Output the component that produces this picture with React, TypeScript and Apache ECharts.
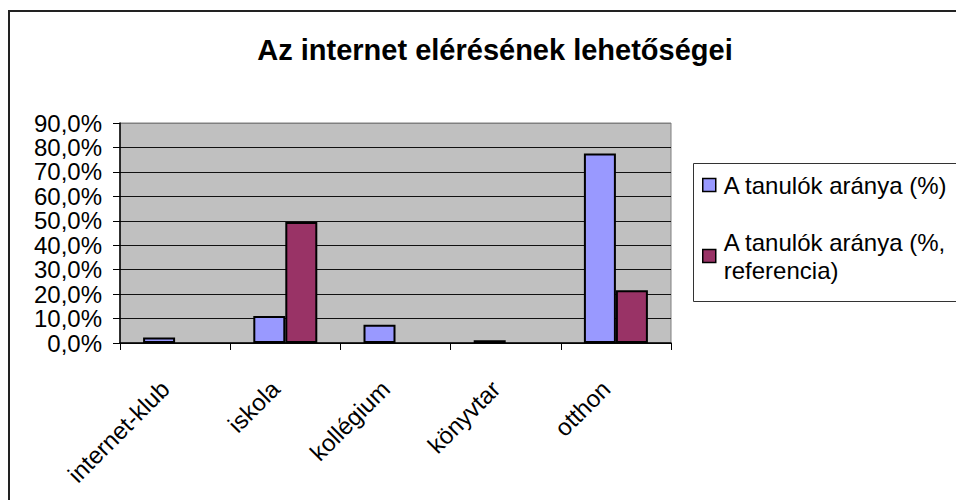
import React, { useEffect, useRef } from "react";
import * as echarts from "echarts";

const titleText = "Az internet elérésének lehetőségei";
const categories = ["internet-klub", "iskola", "kollégium", "könyvtar", "otthon"];
const seriesNames = ["A tanulók aránya (%)", "A tanulók aránya (%,\nreferencia)"];
const studentShare: (number | null)[] = [2.2, 11.0, 7.5, 1.1, 77.5];
const referenceShare: (number | null)[] = [null, 49.5, null, null, 21.6];
const yMin = 0;
const yMax = 90;
const yStep = 10;

const FONT = "'Liberation Sans', Arial, sans-serif";

export default function App() {
  const ref = useRef<HTMLDivElement>(null);
  useEffect(() => {
    document.body.style.margin = "0";
    if (!ref.current) return;
    const chart = echarts.init(ref.current, null, { renderer: "svg" });
    const nLines = (yMax - yMin) / yStep + 1;
    const gridColors = Array.from({ length: nLines }, (_, i) => (i === nLines - 1 ? "#808080" : "#111111"));
    chart.setOption({
      animation: false,
      backgroundColor: "#ffffff",
      textStyle: { fontFamily: FONT },
      title: {
        text: titleText,
        left: 490,
        top: 30,
        textAlign: "center",
        textStyle: { fontFamily: FONT, fontSize: 29, fontWeight: "bold", color: "#000" },
      },
      graphic: [
        {
          type: "rect",
          shape: { x: 9, y: 11, width: 1000, height: 600 },
          style: { fill: "none", stroke: "#222", lineWidth: 2 },
          silent: true,
        },
        {
          type: "rect",
          shape: { x: 693.5, y: 163.5, width: 300, height: 138 },
          style: { fill: "#fff", stroke: "#333", lineWidth: 1 },
          silent: true,
          z: -1,
        },
      ],
      legend: {
        orient: "vertical",
        left: 702,
        top: 171,
        padding: 0,
        itemWidth: 13,
        itemHeight: 13,
        itemGap: 15,
        icon: "rect",
        itemStyle: { borderColor: "#000", borderWidth: 1.5 },
        textStyle: { fontFamily: FONT, fontSize: 24, lineHeight: 28, color: "#000", padding: [0, 0, 0, 3] },
        data: [
          { name: seriesNames[0] },
          { name: seriesNames[1], textStyle: { padding: [28, 0, 0, 3] } },
        ],
      },
      grid: {
        left: 120,
        right: 285,
        top: 123,
        bottom: 157,
        show: true,
        backgroundColor: "#C0C0C0",
        borderColor: "#808080",
        borderWidth: 1,
        containLabel: false,
      },
      xAxis: {
        type: "category",
        data: categories,
        boundaryGap: true,
        axisLine: { show: true, lineStyle: { color: "#000", width: 1.5 } },
        axisTick: { show: true, length: 7, lineStyle: { color: "#000" }, alignWithLabel: false },
        axisLabel: {
          rotate: 45,
          margin: 32,
          interval: 0,
          fontFamily: FONT,
          fontSize: 24,
          color: "#000",
          padding: [0, 14, 0, 0],
        },
        splitLine: { show: false },
      },
      yAxis: {
        type: "value",
        min: yMin,
        max: yMax,
        interval: yStep,
        axisLine: { show: true, lineStyle: { color: "#000", width: 1.5 } },
        axisTick: { show: true, length: 7, lineStyle: { color: "#000" } },
        axisLabel: {
          margin: 18,
          fontFamily: FONT,
          fontSize: 24,
          color: "#000",
          formatter: (v: number) => v.toFixed(1).replace(".", ",") + "%",
        },
        splitLine: { show: true, lineStyle: { color: gridColors, width: 1 } },
      },
      series: [
        {
          name: seriesNames[0],
          type: "bar",
          data: studentShare,
          barWidth: 32,
          barGap: "0%",
          itemStyle: { color: "#9999FF", borderColor: "#000", borderWidth: 2 },
        },
        {
          name: seriesNames[1],
          type: "bar",
          data: referenceShare,
          barWidth: 32,
          barGap: "0%",
          itemStyle: { color: "#993366", borderColor: "#000", borderWidth: 2 },
        },
      ],
    });
    return () => chart.dispose();
  }, []);
  return <div ref={ref} style={{ width: 956, height: 500 }} />;
}
